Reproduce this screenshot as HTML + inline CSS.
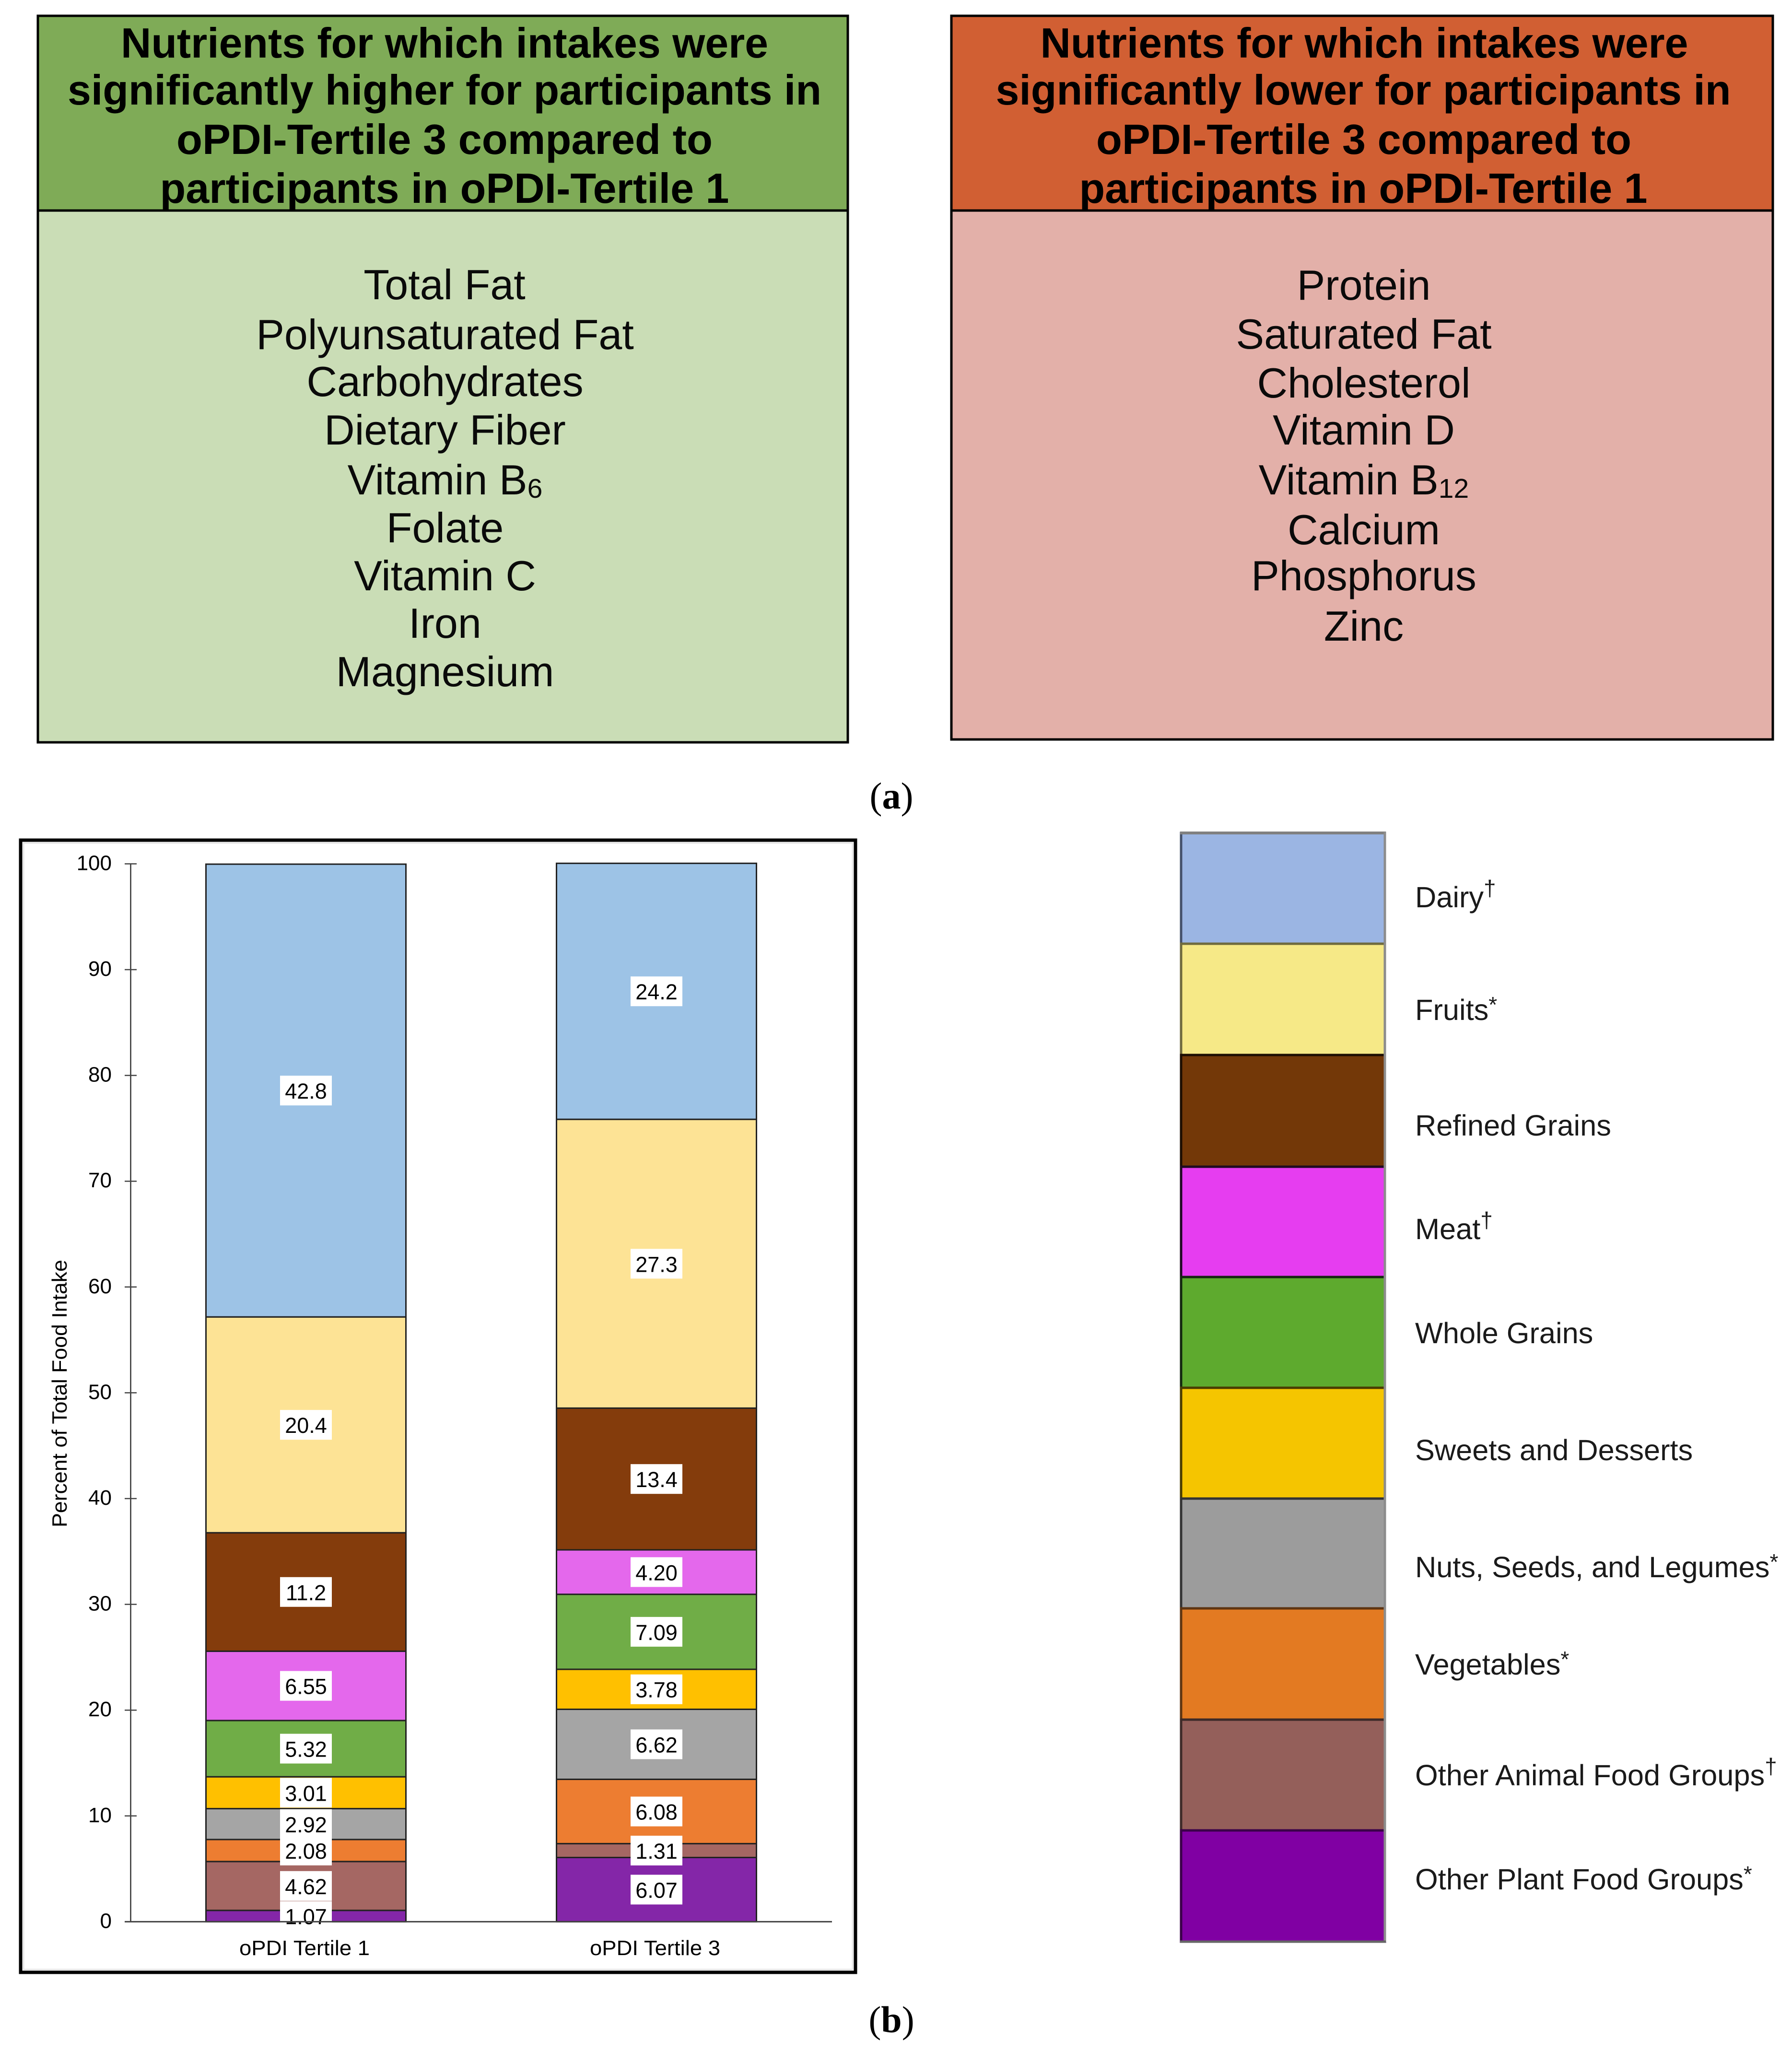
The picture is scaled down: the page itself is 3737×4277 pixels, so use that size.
<!DOCTYPE html>
<html lang="en">
<head>
<meta charset="utf-8">
<title>Nutrient and food group intake by oPDI tertile</title>
<style>
html,body{margin:0;padding:0;background:#fff;}
svg{display:block;}
text{font-family:"Liberation Sans",sans-serif;fill:#000;}
.title{font-weight:bold;font-size:88px;text-anchor:middle;}
.item{font-size:88px;text-anchor:middle;fill:#0a0a0a;}
.lg{font-size:61.3px;fill:#1a1a1a;}
.sup{font-size:46px;}
.cap{font-family:"Liberation Serif",serif;font-size:78px;text-anchor:middle;}
</style>
</head>
<body>
<svg id="root" xmlns="http://www.w3.org/2000/svg" width="3737" height="4277" viewBox="0 0 3737 4277">
<rect x="0" y="0" width="3737" height="4277" fill="#fff"/>

<g>
  <rect x="79" y="33" width="1689" height="406" fill="#7FAB57"/>
  <text class="title" x="927" y="120" textLength="1350" lengthAdjust="spacingAndGlyphs">Nutrients for which intakes were</text>
  <text class="title" x="927" y="218" textLength="1572" lengthAdjust="spacingAndGlyphs">significantly higher for participants in</text>
  <text class="title" x="927" y="321" textLength="1118" lengthAdjust="spacingAndGlyphs">oPDI-Tertile 3 compared to</text>
  <text class="title" x="927" y="423" textLength="1187" lengthAdjust="spacingAndGlyphs">participants in oPDI-Tertile 1</text>
  <rect x="79" y="439" width="1689" height="1109" fill="#CADDB6"/>
  <line x1="79" y1="439" x2="1768" y2="439" stroke="#000" stroke-width="5"/>
  <rect x="79" y="33" width="1689" height="1515" fill="none" stroke="#000" stroke-width="5"/>
  <text class="item" x="927" y="624">Total Fat</text>
  <text class="item" x="928" y="728">Polyunsaturated Fat</text>
  <text class="item" x="928" y="826">Carbohydrates</text>
  <text class="item" x="928" y="927">Dietary Fiber</text>
  <text class="item" x="928" y="1031">Vitamin B<tspan font-size="57" dy="7">6</tspan></text>
  <text class="item" x="928" y="1131">Folate</text>
  <text class="item" x="928" y="1231">Vitamin C</text>
  <text class="item" x="928" y="1330">Iron</text>
  <text class="item" x="928" y="1431">Magnesium</text>
</g>

<g>
  <rect x="1984" y="33" width="1713" height="406" fill="#D15F33"/>
  <text class="title" x="2845" y="120" textLength="1351" lengthAdjust="spacingAndGlyphs">Nutrients for which intakes were</text>
  <text class="title" x="2843" y="218" textLength="1533" lengthAdjust="spacingAndGlyphs">significantly lower for participants in</text>
  <text class="title" x="2844" y="321" textLength="1116" lengthAdjust="spacingAndGlyphs">oPDI-Tertile 3 compared to</text>
  <text class="title" x="2843" y="423" textLength="1185" lengthAdjust="spacingAndGlyphs">participants in oPDI-Tertile 1</text>
  <rect x="1984" y="439" width="1713" height="1103" fill="#E3B0A9"/>
  <line x1="1984" y1="439" x2="3697" y2="439" stroke="#000" stroke-width="5"/>
  <rect x="1984" y="33" width="1713" height="1509" fill="none" stroke="#000" stroke-width="5"/>
  <text class="item" x="2844" y="625">Protein</text>
  <text class="item" x="2844" y="727">Saturated Fat</text>
  <text class="item" x="2844" y="829">Cholesterol</text>
  <text class="item" x="2844" y="927">Vitamin D</text>
  <text class="item" x="2844" y="1031">Vitamin B<tspan font-size="57" dy="7">12</tspan></text>
  <text class="item" x="2844" y="1135">Calcium</text>
  <text class="item" x="2844" y="1231">Phosphorus</text>
  <text class="item" x="2844" y="1336">Zinc</text>
</g>

<text class="cap" x="1859" y="1686" font-size="78">(<tspan font-weight="bold">a</tspan>)</text>
<text class="cap" x="1859" y="4238">(<tspan font-weight="bold">b</tspan>)</text>

<rect x="43" y="1752" width="1741" height="2361" fill="#fff" stroke="#000" stroke-width="7"/>
<rect x="49" y="1758" width="1729" height="2349" fill="none" stroke="#e6e6e6" stroke-width="3"/>
<g id="chart"></g>

<g>
  <rect x="2463" y="1737" width="425" height="231" fill="#9BB5E3" stroke="#44506a" stroke-width="5"/>
  <rect x="2463" y="1968" width="425" height="232" fill="#F6E987" stroke="#6f6a3e" stroke-width="5"/>
  <rect x="2463" y="2200" width="425" height="233" fill="#733808" stroke="#1c0e02" stroke-width="5"/>
  <rect x="2463" y="2433" width="425" height="230" fill="#E63DF0" stroke="#1f0a20" stroke-width="5"/>
  <rect x="2463" y="2663" width="425" height="231" fill="#5EAA2E" stroke="#142610" stroke-width="5"/>
  <rect x="2463" y="2894" width="425" height="231" fill="#F5C500" stroke="#4a3c00" stroke-width="5"/>
  <rect x="2463" y="3125" width="425" height="229" fill="#9C9C9C" stroke="#333" stroke-width="5"/>
  <rect x="2463" y="3354" width="425" height="232" fill="#E37A22" stroke="#5e3512" stroke-width="5"/>
  <rect x="2463" y="3586" width="425" height="231" fill="#945F5A" stroke="#3d2a28" stroke-width="5"/>
  <rect x="2463" y="3817" width="425" height="232" fill="#8000A3" stroke="#3a0048" stroke-width="5"/>
  <line x1="2461" y1="1737" x2="2890" y2="1737" stroke="#808080" stroke-width="6"/>
  <line x1="2888" y1="1735" x2="2888" y2="4049" stroke="#8c8c8c" stroke-width="5"/>
  <line x1="2461" y1="4049" x2="2890" y2="4049" stroke="#666" stroke-width="5"/>
  <text class="lg" x="2951" y="1892">Dairy<tspan class="sup" dy="-24">†</tspan></text>
  <text class="lg" x="2951" y="2127">Fruits<tspan class="sup" dy="-16">*</tspan></text>
  <text class="lg" x="2951" y="2368">Refined Grains</text>
  <text class="lg" x="2951" y="2584">Meat<tspan class="sup" dy="-24">†</tspan></text>
  <text class="lg" x="2951" y="2801">Whole Grains</text>
  <text class="lg" x="2951" y="3045">Sweets and Desserts</text>
  <text class="lg" x="2951" y="3289">Nuts, Seeds, and Legumes<tspan class="sup" dy="-16">*</tspan></text>
  <text class="lg" x="2951" y="3492">Vegetables<tspan class="sup" dy="-16">*</tspan></text>
  <text class="lg" x="2951" y="3723">Other Animal Food Groups<tspan class="sup" dy="-24">†</tspan></text>
  <text class="lg" x="2951" y="3940">Other Plant Food Groups<tspan class="sup" dy="-16">*</tspan></text>
</g>
</svg>

<script>
// Chart data (stack order: bottom to top)
const categories = ['oPDI Tertile 1', 'oPDI Tertile 3'];
const seriesNames = ['other-plant', 'other-animal', 'vegetables', 'nuts-seeds-legumes', 'sweets-desserts', 'whole-grains', 'meat', 'refined-grains', 'fruits', 'dairy'];
const tertile1Values = [1.07, 4.62, 2.08, 2.92, 3.01, 5.32, 6.55, 11.2, 20.4, 42.8];
const tertile3Values = [6.07, 1.31, 6.08, 6.62, 3.78, 7.09, 4.20, 13.4, 27.3, 24.2];
const tickLabels = [0, 10, 20, 30, 40, 50, 60, 70, 80, 90, 100];

const seriesColors = {
  'other-plant': '#8426A8',
  'other-animal': '#A56763',
  'vegetables': '#ED7D31',
  'nuts-seeds-legumes': '#A5A5A5',
  'sweets-desserts': '#FFC000',
  'whole-grains': '#70AD47',
  'meat': '#E468EC',
  'refined-grains': '#843C0C',
  'fruits': '#FDE395',
  'dairy': '#9DC3E6'
};
const allValues = [tertile1Values, tertile3Values];

const NS = 'http://www.w3.org/2000/svg';
const chart = document.getElementById('chart');

function yScale(v) { return 4007.4 - v * 22.06; }
function xCenter(i) { return 638 + i * 731; }
const BAR_WIDTH = 417;

function make(tag, attrs, text) {
  const el = document.createElementNS(NS, tag);
  for (const k in attrs) el.setAttribute(k, attrs[k]);
  if (text !== undefined) el.textContent = text;
  return el;
}
function printed(v) { return v >= 10 ? v.toFixed(1) : v.toFixed(2); }

// y axis
const yAxis = make('line', { x1: 272.5, y1: yScale(100), x2: 272.5, y2: yScale(0), stroke: '#333', 'stroke-width': 2.5 });


chart.appendChild(yAxis);

tickLabels.forEach(function (t) {
  const tick = make('line', { x1: 260, y1: yScale(t), x2: 285, y2: yScale(t), stroke: '#444', 'stroke-width': 2.5 });
  
  
  chart.appendChild(tick);
  const label = make('text', { x: 233, y: yScale(t) + 13, 'text-anchor': 'end', 'font-size': 44, fill: '#111' }, String(t));
  
  
  chart.appendChild(label);
});

const yTitle = make('text', { transform: 'translate(139,2906) rotate(-90)', 'text-anchor': 'middle', 'font-size': 44, fill: '#111', textLength: 558, lengthAdjust: 'spacingAndGlyphs' }, 'Percent of Total Food Intake');


chart.appendChild(yTitle);

// stacked segments
categories.forEach(function (cat, c) {
  let cum = 0;
  allValues[c].forEach(function (v, s) {
    const top = yScale(cum + v), bottom = yScale(cum);
    const seg = make('rect', {
      x: xCenter(c) - BAR_WIDTH / 2, y: top, width: BAR_WIDTH, height: bottom - top,
      fill: seriesColors[seriesNames[s]], stroke: '#222', 'stroke-width': 3
    });
    
    
    chart.appendChild(seg);
    cum += v;
  });
});

// value labels on top of all segments
categories.forEach(function (cat, c) {
  let cum = 0;
  allValues[c].forEach(function (v, s) {
    const mid = yScale(cum + v / 2);
    const box = make('rect', { x: xCenter(c) - 54, y: mid - 31, width: 108, height: 62, fill: '#fff' });
    
    
    chart.appendChild(box);
    const isSweets = seriesNames[s] === 'sweets-desserts';
    const txt = make('text', { x: xCenter(c), y: mid + 17, 'text-anchor': 'middle', 'font-size': 45, fill: isSweets ? '#666' : '#000' }, printed(v));
    
    
    chart.appendChild(txt);
    cum += v;
  });
});

// x axis
const xAxis = make('line', { x1: 260, y1: yScale(0), x2: 1735, y2: yScale(0), stroke: '#444', 'stroke-width': 3 });


chart.appendChild(xAxis);

categories.forEach(function (cat, c) {
  const label = make('text', { x: xCenter(c) - 3, y: 4077, 'text-anchor': 'middle', 'font-size': 44, fill: '#111', textLength: 272, lengthAdjust: 'spacingAndGlyphs' }, cat);
  
  
  chart.appendChild(label);
});
</script>
</body>
</html>
